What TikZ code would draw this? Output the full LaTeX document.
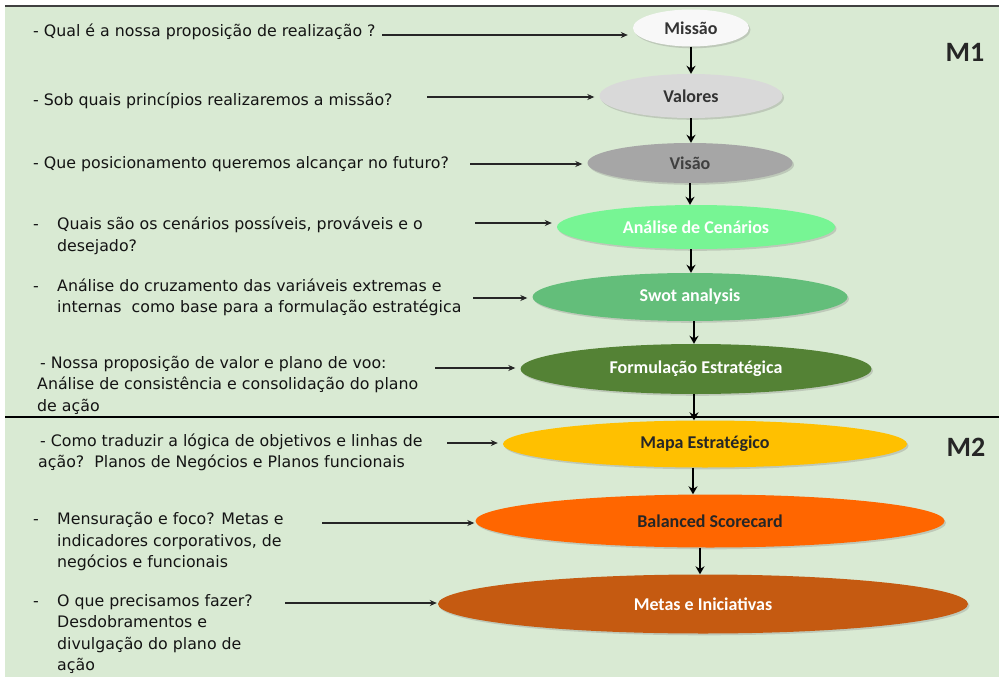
\documentclass[tikz,border=0pt]{standalone}
\usepackage{fontspec}
\setmainfont{DejaVu Sans}
\newfontfamily\calibri{Carlito}
\usetikzlibrary{shapes.geometric,arrows.meta,shadows}

\definecolor{bggreen}{RGB}{217,234,211}
\definecolor{cmissao}{RGB}{248,248,248}
\definecolor{cvalores}{RGB}{217,217,217}
\definecolor{cvisao}{RGB}{166,166,166}
\definecolor{ccenarios}{RGB}{119,245,148}
\definecolor{cswot}{RGB}{99,190,122}
\definecolor{cformul}{RGB}{84,130,53}
\definecolor{cmapa}{RGB}{255,192,0}
\definecolor{cbsc}{RGB}{255,102,0}
\definecolor{cmetas}{RGB}{197,90,17}

\newcommand{\hangq}[1]{\begin{tabular}{@{}p{24pt}@{}l@{}}#1\end{tabular}}

\tikzset{
	stage/.style={ellipse, inner sep=0pt, font=\calibri\bfseries\fontsize{18}{20}\selectfont,
		drop shadow={shadow xshift=1.5pt, shadow yshift=-1.8pt, opacity=0.3}},
	question/.style={anchor=west, align=left, inner sep=0pt, text=black!92,
		font=\fontsize{15.8}{21.5}\selectfont},
	module/.style={font=\calibri\bfseries\fontsize{28}{30}\selectfont, text=black!85},
	harrow/.style={-{Stealth[length=7pt,width=6pt]}, line width=1.3pt, black!85, shorten >=5pt},
	varrow/.style={-{Stealth[length=8pt,width=9pt]}, line width=2.4pt, black},
}

\begin{document}
\begin{tikzpicture}[x=1pt, y=-1pt]
			%%%%% START %%%%%
			\useasboundingbox (0, 0) rectangle (999, 677);
			\fill[bggreen] (5, 7) rectangle (999, 677);
			\draw[line width=2pt, black!75] (5, 6) -- (999, 6);
			\draw[line width=2pt, black] (5, 417) -- (999, 417);
			
			\node[module] (m1) at (965, 52) {M1};
			\node[module] (m2) at (966, 447) {M2};
			
			% stages
			\node[stage, fill=cmissao, text=black!80, minimum width=116pt, minimum height=37pt] (missao) at (691, 28) {Missão};
			\node[stage, fill=cvalores, text=black!80, minimum width=183pt, minimum height=44pt] (valores) at (691, 96) {Valores};
			\node[stage, fill=cvisao, text=black!75, minimum width=205pt, minimum height=40pt] (visao) at (690, 163) {Visão};
			\node[stage, fill=ccenarios, text=white, minimum width=278pt, minimum height=44pt] (cenarios) at (696, 227) {Análise de Cenários};
			\node[stage, fill=cswot, text=white, minimum width=315pt, minimum height=48pt] (swot) at (690, 297) {Swot analysis};
			\node[stage, fill=cformul, text=white, minimum width=351pt, minimum height=50pt] (formul) at (696, 369) {Formulação Estratégica};
			\node[stage, fill=cmapa, text=black!85, minimum width=404pt, minimum height=47pt] (mapa) at (705, 444) {Mapa Estratégico};
			\node[stage, fill=cbsc, text=black!85, minimum width=469pt, minimum height=53pt] (bsc) at (710, 521) {Balanced Scorecard};
			\node[stage, fill=cmetas, text=white, minimum width=530pt, minimum height=59pt] (metas) at (703, 604) {Metas e Iniciativas};
			
			\draw[varrow] (missao.south) -- (missao.south |- valores.north);
			\draw[varrow] (valores.south) -- (valores.south |- visao.north);
			\draw[varrow] (visao.south) -- (visao.south |- cenarios.north);
			\draw[varrow] ([xshift=-5pt]cenarios.south) -- ([xshift=-5pt]cenarios.south |- swot.north);
			\draw[varrow] ([xshift=4pt]swot.south) -- ([xshift=4pt]swot.south |- formul.north);
			\draw[varrow] ([xshift=-2pt]formul.south) -- ([xshift=-2pt]formul.south |- mapa.north);
			\draw[varrow] ([xshift=-12pt]mapa.south) -- ([xshift=-12pt]mapa.south |- bsc.north);
			\draw[varrow] ([xshift=-10pt]bsc.south) -- ([xshift=-10pt]bsc.south |- metas.north);
			
			% questions
			\node[question] (q1) at (33, 32) {- Qual é a nossa proposição de realização ?};
			\node[question] (q2) at (33, 101) {- Sob quais princípios realizaremos a missão?};
			\node[question] (q3) at (33, 164) {- Que posicionamento queremos alcançar no futuro?};
			\node[question] (q4) at (33, 236) {\hangq{- & Quais são os cenários possíveis, prováveis e o\\ & desejado?}};
			\node[question] (q5) at (33, 297.5) {\hangq{- & Análise do cruzamento das variáveis extremas e\\ & internas\ \ como base para a formulação estratégica}};
			\node[question] (q6) at (37, 385) {\hspace*{3pt}- Nossa proposição de valor e plano de voo:\\Análise de consistência e consolidação do plano\\de ação};
			\node[question] (q7) at (38, 452.5) {\hspace*{2pt}- Como traduzir a lógica de objetivos e linhas de\\ação?\ \ Planos de Negócios e Planos funcionais};
			\node[question] (q8) at (33, 541.7) {\hangq{- & Mensuração e foco? Metas e\\ & indicadores corporativos, de\\ & negócios e funcionais}};
			\node[question] (q9) at (33, 634) {\hangq{- & O que precisamos fazer?\\ & Desdobramentos e\\ & divulgação do plano de\\ & ação}};
			
			\coordinate (s1) at (382, 35);
			\coordinate (s2) at (427, 97);
			\coordinate (s3) at (470, 164);
			\coordinate (s4) at (475, 223);
			\coordinate (s5) at (473, 298);
			\coordinate (s6) at (435, 368);
			\coordinate (s7) at (447, 443);
			\coordinate (s8) at (322, 523);
			\coordinate (s9) at (285, 603);
			
			\draw[harrow] (s1) -- (s1 -| missao.west);
			\draw[harrow] (s2) -- (s2 -| valores.west);
			\draw[harrow] (s3) -- (s3 -| visao.west);
			\draw[harrow] (s4) -- (s4 -| cenarios.west);
			\draw[harrow] (s5) -- (s5 -| swot.west);
			\draw[harrow] (s6) -- (s6 -| formul.west);
			\draw[harrow] (s7) -- (s7 -| mapa.west);
			\draw[harrow, shorten >=1pt] (s8) -- (s8 -| bsc.west);
			\draw[harrow, shorten >=1pt] (s9) -- (s9 -| metas.west);
			%%%%% END %%%%%
\end{tikzpicture}
\end{document}
